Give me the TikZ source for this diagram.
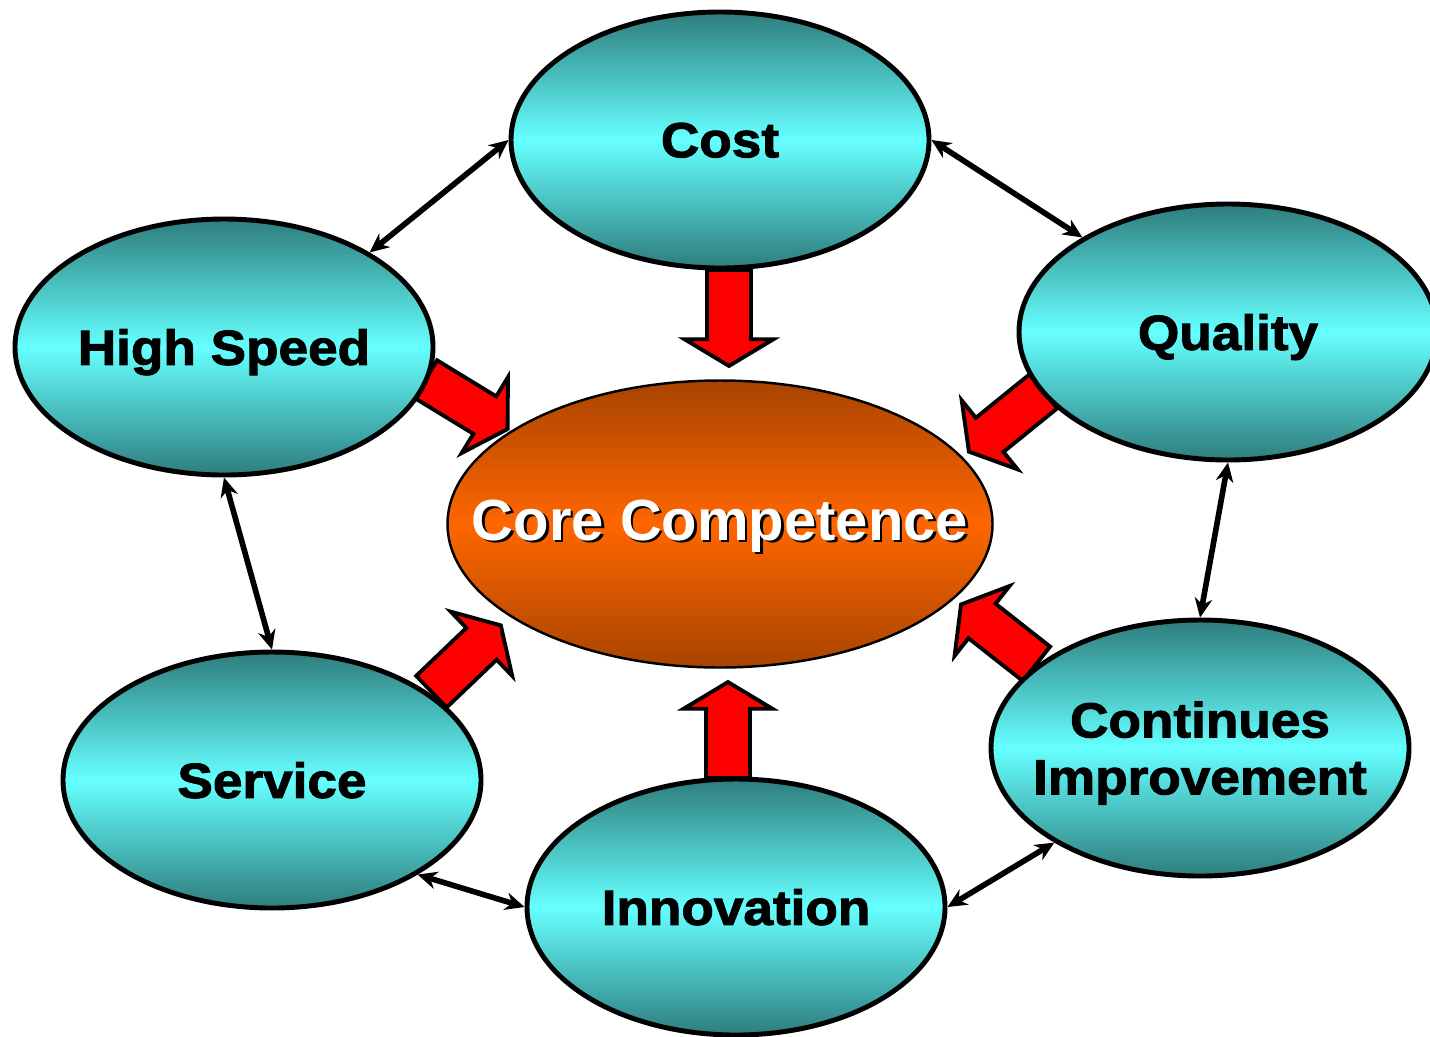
\documentclass[tikz,border=0pt]{standalone}
\usepackage{fontspec}
\setmainfont{Liberation Sans}
\newfontfamily\labelfont{Liberation Sans Bold}[FakeBold=2,FakeStretch=1.08]
\usetikzlibrary{shapes.geometric,shapes.arrows,arrows.meta}

\definecolor{tealdark}{RGB}{46,125,125}
\definecolor{teallight}{RGB}{102,255,255}
\definecolor{coredark}{RGB}{168,68,0}
\definecolor{corelight}{RGB}{255,102,0}

\begin{document}
\begin{tikzpicture}[
   outer/.style={ellipse, draw=black, line width=1.4pt, inner sep=0pt,
      minimum width=4.18cm, minimum height=2.56cm, text depth=0pt,
      top color=tealdark, bottom color=tealdark, middle color=teallight,
      font=\labelfont\fontsize{14}{16.2}\selectfont, align=center},
   bigarrow/.style={single arrow, draw=black, fill=red, line width=1.1pt,
      minimum height=0.96cm, inner xsep=0pt, inner ysep=0.2cm,
      single arrow head extend=0.225cm, single arrow tip angle=118, anchor=tail},
   link/.style={<->, >={Stealth[length=5.5pt,width=5pt]}, line width=1.6pt}
  ]
   \useasboundingbox (0,0) rectangle (14.30,-10.36);

   % red block arrows into the core
   \node(aCost)[bigarrow, rotate=-90] at (7.29,-2.68) {};
   \node(aInnov)[bigarrow, rotate=90] at (7.28,-7.80) {};
   \node(aSpeed)[bigarrow, rotate=-31.4] at (4.24,-3.78) {};
   \node(aQual)[bigarrow, rotate=-141] at (10.45,-3.90) {};
   \node(aServ)[bigarrow, rotate=43.7] at (4.30,-6.93) {};
   \node(aImpr)[bigarrow, rotate=141.8] at (10.38,-6.65) {};

   % core
   \node(core)[ellipse, draw=black, line width=0.7pt, inner sep=0pt,
      minimum width=5.45cm, minimum height=2.87cm,
      top color=coredark, bottom color=coredark, middle color=corelight]
      at (7.20,-5.24) {};
   \node(coreShadow)[font=\bfseries\fontsize{16.5}{18}\selectfont, black]
      at (7.225,-5.285) {Core Competence};
   \node(coreText)[font=\bfseries\fontsize{16.5}{18}\selectfont, white]
      at (7.20,-5.26) {Core Competence};

   % outer factors
   \node(cost)[outer] at (7.20,-1.40) {Cost};
   \node(quality)[outer] at (12.28,-3.32) {Quality};
   \node(speed)[outer] at (2.24,-3.47) {High Speed};
   \node(service)[outer] at (2.72,-7.80) {Service};
   \node(impr)[outer, inner xsep=-0.8cm] at (12.00,-7.48) {Continues\\Improvement};
   \node(innov)[outer] at (7.36,-9.07) {Innovation};

   \draw[link] (cost.west) -- (speed.33);
   \draw[link] (cost.east) -- (quality.147);
   \draw[link] (quality.south) -- (impr.north);
   \draw[link] (speed.south) -- (service.north);
   \draw[link] (service.-33) -- (innov.west);
   \draw[link] (innov.east) -- (impr.213);
  \end{tikzpicture}
\end{document}
